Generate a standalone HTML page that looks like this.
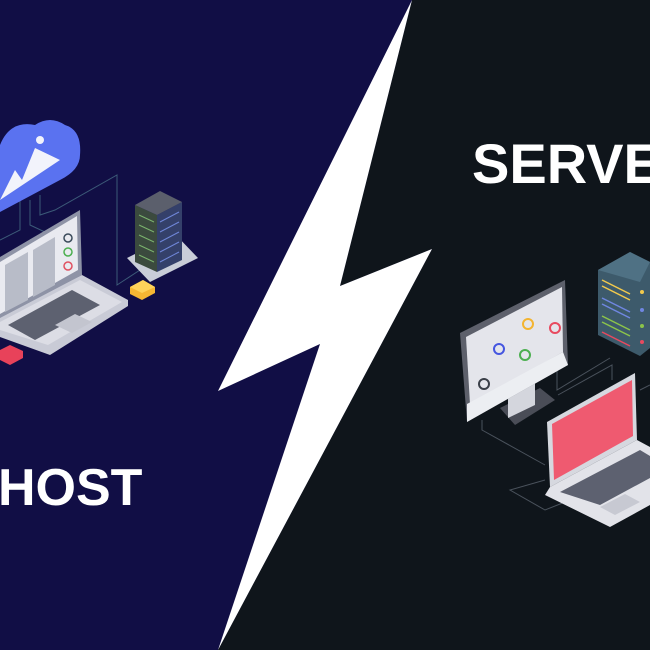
<!DOCTYPE html>
<html><head><meta charset="utf-8"><style>
html,body{margin:0;padding:0;width:650px;height:650px;overflow:hidden;background:#110e45}
svg{display:block}
</style></head><body>
<svg width="650" height="650" viewBox="0 0 650 650" xmlns="http://www.w3.org/2000/svg">
<rect width="650" height="650" fill="#110e45"/>
<polygon points="412,0 650,0 650,650 218,650 432,249 340,286" fill="#0f151b"/>
<polygon points="412,0 340,286 432,249 218,650 320,344 218,391" fill="#ffffff"/>

<!-- left connectors -->
<g stroke="#3c5a78" stroke-width="1" fill="none">
<polyline points="20,200 20,230 0,240"/>
<polyline points="30,200 30,225 45,232 30,240"/>
<polyline points="40,195 40,215 55,210 117,175 117,285 140,270"/>
</g>
<!-- cloud -->
<path d="M0,145 Q10,120 35,125 Q50,115 65,125 Q82,130 80,155 Q80,170 60,180 L0,212 Z" fill="#5a72f0"/>
<path d="M0,200 L15,170 L22,180 L35,148 L60,160 L0,200 Z" fill="#f2f3fb"/>
<circle cx="40" cy="140" r="4" fill="#f2f3fb"/>
<!-- laptop left -->
<polygon points="0,257 80,210 82,275 0,320" fill="#8e93a6"/>
<polygon points="0,262 77,216 78,270 0,314" fill="#e9eaf0"/>
<g fill="#b8bcc8"><polygon points="5,265 28,252 28,300 5,312"/><polygon points="33,250 55,237 55,285 33,297"/></g>
<circle cx="68" cy="238" r="4" fill="none" stroke="#3a4a5a" stroke-width="1.5"/>
<circle cx="68" cy="252" r="4" fill="none" stroke="#4caf50" stroke-width="1.5"/>
<circle cx="68" cy="266" r="4" fill="none" stroke="#e05060" stroke-width="1.5"/>
<polygon points="0,318 82,275 128,300 128,306 50,355 0,337" fill="#c9cbd6"/>
<polygon points="0,322 80,280 122,302 48,345 0,330" fill="#dcdde5"/>
<polygon points="8,325 72,290 100,305 35,340" fill="#5d6170"/>
<polygon points="55,325 75,314 92,322 72,333" fill="#c3c5cf"/>
<!-- server rack left -->
<polygon points="127,258 175,234 198,258 150,282" fill="#c9cdd8"/>
<polygon points="135,205 157,215 157,272 135,262" fill="#3b4a3e"/>
<polygon points="157,215 182,202 182,260 157,272" fill="#34406a"/>
<polygon points="135,205 160,191 182,202 157,215" fill="#5b5f6c"/>
<g stroke="#7bb36e" stroke-width="1"><line x1="139" y1="215" x2="154" y2="222"/><line x1="139" y1="225" x2="154" y2="232"/><line x1="139" y1="235" x2="154" y2="242"/><line x1="139" y1="245" x2="154" y2="252"/><line x1="139" y1="255" x2="154" y2="262"/></g>
<g stroke="#6f86d8" stroke-width="1"><line x1="160" y1="222" x2="179" y2="212"/><line x1="160" y1="232" x2="179" y2="222"/><line x1="160" y1="242" x2="179" y2="232"/><line x1="160" y1="252" x2="179" y2="242"/><line x1="160" y1="262" x2="179" y2="252"/></g>
<!-- cubes -->
<polygon points="130,287 143,280 155,287 155,293 142,300 130,294" fill="#f6b733"/>
<polygon points="130,287 143,280 155,287 142,293" fill="#ffd35a"/>
<polygon points="0,350 10,345 23,351 23,358 10,365 0,360" fill="#e8425a"/>

<text x="-2" y="505" font-family="Liberation Sans, sans-serif" font-weight="bold" font-size="52" fill="#ffffff">HOST</text>
<text x="472" y="183" font-family="Liberation Sans, sans-serif" font-weight="bold" font-size="56" fill="#ffffff">SERVER</text>

<!-- right connectors -->
<g stroke="#4a525c" stroke-width="1" fill="none">
<polyline points="482,420 482,430 545,465"/>
<polyline points="557,360 557,390 610,358"/>
<polyline points="558,395 612,365 612,380"/>
<polyline points="545,480 510,490 545,510 570,500"/>
<polyline points="640,390 650,385"/>
</g>
<!-- monitor -->
<polygon points="500,408 540,388 555,400 515,425" fill="#4a4d57"/>
<polygon points="508,395 535,382 535,405 508,418" fill="#d4d6dd"/>
<polygon points="460,333 565,280 568,365 467,422" fill="#5d606b"/>
<polygon points="466,337 562,287 563,352 470,404" fill="#e4e5eb"/>
<polygon points="467,404 563,352 568,365 467,422" fill="#eceef2"/>
<circle cx="499" cy="349" r="5" fill="none" stroke="#4556e0" stroke-width="2"/>
<circle cx="528" cy="324" r="5" fill="none" stroke="#f3b431" stroke-width="2"/>
<circle cx="555" cy="328" r="5" fill="none" stroke="#e84a5f" stroke-width="2"/>
<circle cx="525" cy="355" r="5" fill="none" stroke="#4caf50" stroke-width="2"/>
<circle cx="484" cy="384" r="5" fill="none" stroke="#3a3f48" stroke-width="2"/>
<!-- server right -->
<polygon points="598,270 630,252 650,262 650,348 640,356 598,335" fill="#3d5a6b"/>
<polygon points="598,270 630,252 650,262 640,282" fill="#4f7184"/>
<g stroke-width="1.5"><line x1="602" y1="280" x2="630" y2="294" stroke="#f2c94c"/><line x1="602" y1="286" x2="630" y2="300" stroke="#f2c94c"/>
<line x1="602" y1="298" x2="630" y2="312" stroke="#6f86e0"/><line x1="602" y1="304" x2="630" y2="318" stroke="#6f86e0"/>
<line x1="602" y1="316" x2="630" y2="330" stroke="#8bc34a"/><line x1="602" y1="322" x2="630" y2="336" stroke="#8bc34a"/>
<line x1="602" y1="332" x2="630" y2="346" stroke="#e84a5f"/></g>
<circle cx="642" cy="292" r="2" fill="#f2c94c"/><circle cx="642" cy="310" r="2" fill="#6f86e0"/><circle cx="642" cy="326" r="2" fill="#8bc34a"/><circle cx="642" cy="342" r="2" fill="#e84a5f"/>
<!-- laptop right -->
<polygon points="547,422 635,373 637,440 550,487" fill="#d6d8df"/>
<polygon points="552,424 632,380 633,436 554,480" fill="#ef5a70"/>
<polygon points="550,487 637,440 650,447 650,505 610,527 545,495" fill="#e2e3e9"/>
<polygon points="560,492 640,450 650,456 650,478 600,505" fill="#5d6170"/>
<polygon points="600,507 625,494 640,502 615,515" fill="#c7c9d2"/>
</svg>
</body></html>
